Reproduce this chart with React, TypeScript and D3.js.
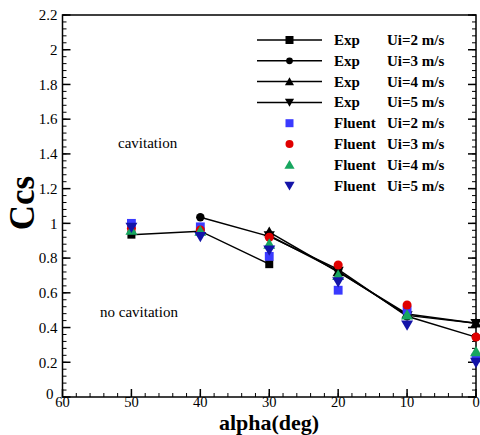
import React from "react";
import * as d3 from "d3";

const W = 480;
const H = 435;
const M = { left: 62.5, right: 476, top: 15, bottom: 397 };

const alphaVals = [50, 40, 30, 20, 10, 0];

// Experimental series (null = no point)
const expUi2 = [0.935, 0.955, 0.765, null, null, null];
const expUi3 = [null, 1.035, 0.925, 0.735, 0.465, 0.345];
const expUi4 = [null, null, 0.95, 0.72, 0.478, 0.425];
const expUi5 = [null, null, 0.93, 0.725, 0.47, 0.425];

// Fluent series
const fluUi2 = [1.0, 0.98, 0.81, 0.615, 0.5, 0.225];
const fluUi3 = [0.97, 0.962, 0.92, 0.76, 0.53, 0.345];
const fluUi4 = [0.96, 0.955, 0.88, 0.7, 0.472, 0.26];
const fluUi5 = [0.978, 0.925, 0.847, 0.664, 0.415, 0.2];

const xTicks = [60, 50, 40, 30, 20, 10, 0];
const yTicks = [0, 0.2, 0.4, 0.6, 0.8, 1, 1.2, 1.4, 1.6, 1.8, 2, 2.2];

const legendLabels = [
  ["Exp", "Ui=2 m/s"],
  ["Exp", "Ui=3 m/s"],
  ["Exp", "Ui=4 m/s"],
  ["Exp", "Ui=5 m/s"],
  ["Fluent", "Ui=2 m/s"],
  ["Fluent", "Ui=3 m/s"],
  ["Fluent", "Ui=4 m/s"],
  ["Fluent", "Ui=5 m/s"],
];

const x = d3.scaleLinear().domain([60, 0]).range([M.left, M.right]);
const y = d3.scaleLinear().domain([0, 2.2]).range([M.bottom, M.top]);

type Shape = "square" | "circle" | "tri" | "dtri";

function symPath(shape: Shape, size: number): string {
  const t =
    shape === "square"
      ? d3.symbolSquare
      : shape === "circle"
      ? d3.symbolCircle
      : d3.symbolTriangle;
  return d3.symbol().type(t).size(size)() || "";
}

function Marker({ cx, cy, shape, size, fill }: { cx: number; cy: number; shape: Shape; size: number; fill: string }) {
  const rot = shape === "dtri" ? " rotate(180)" : "";
  const dy = shape === "tri" ? 1 : shape === "dtri" ? -1 : 0;
  return <path d={symPath(shape, size)} transform={`translate(${cx},${cy + dy})${rot}`} fill={fill} />;
}

const expSeries: { vals: (number | null)[]; shape: Shape }[] = [
  { vals: expUi2, shape: "square" },
  { vals: expUi3, shape: "circle" },
  { vals: expUi4, shape: "tri" },
  { vals: expUi5, shape: "dtri" },
];
const fluSeries: { vals: number[]; shape: Shape; color: string }[] = [
  { vals: fluUi2, shape: "square", color: "#3a3aff" },
  { vals: fluUi3, shape: "circle", color: "#e00000" },
  { vals: fluUi4, shape: "tri", color: "#17a65f" },
  { vals: fluUi5, shape: "dtri", color: "#1414a8" },
];

const expSize: Record<Shape, number> = { square: 64, circle: 56, tri: 55, dtri: 55 };
const fluSize: Record<Shape, number> = { square: 78, circle: 64, tri: 62, dtri: 62 };
const legExpSize: Record<Shape, number> = { square: 64, circle: 36, tri: 36, dtri: 36 };
const legFluSize: Record<Shape, number> = { square: 64, circle: 50, tri: 45, dtri: 45 };

const FONT = '"Liberation Serif"';

function T(props: any) {
  const { style, ...rest } = props;
  return <text {...rest} style={{ fontFamily: FONT, ...(style || {}) }} />;
}

export default function App() {
  const line = d3
    .line<[number, number | null]>()
    .defined((d) => d[1] !== null)
    .x((d) => x(d[0]))
    .y((d) => y(d[1] as number));

  const xMinor = d3.range(60, -0.1, -2);
  const yMinor = d3.range(0, 2.201, 0.04);

  const legY0 = 40;
  const legDy = 20.8;

  return (
    <svg
      width={W}
      height={H}
      style={{ position: "absolute", left: 0, top: 0, background: "#fff" }}
    >
      <rect width={W} height={H} fill="#fff" />
      {/* minor ticks */}
      {yMinor.map((v, i) => (
        <g key={"ym" + i}>
          <line x1={M.left} x2={M.left + 4} y1={y(v)} y2={y(v)} stroke="#000" strokeWidth={1} />
          <line x1={M.right} x2={M.right - 4} y1={y(v)} y2={y(v)} stroke="#000" strokeWidth={1} />
        </g>
      ))}
      {xMinor.map((v, i) => (
        <line key={"xm" + i} x1={x(v)} x2={x(v)} y1={M.bottom} y2={M.bottom - 4} stroke="#000" strokeWidth={1} />
      ))}
      {/* major ticks */}
      {yTicks.map((v, i) => (
        <g key={"yt" + i}>
          <line x1={M.left} x2={M.left + 8} y1={y(v)} y2={y(v)} stroke="#000" strokeWidth={1.5} />
          <line x1={M.right} x2={M.right - 8} y1={y(v)} y2={y(v)} stroke="#000" strokeWidth={1.5} />
          <T x={v === 0 ? M.left - 9 : M.left - 5} y={v === 0 ? y(v) - 3 : y(v)} dy="0.35em" textAnchor="end" fontSize={15}>
            {d3.format("~g")(v)}
          </T>
        </g>
      ))}
      {xTicks.map((v, i) => (
        <g key={"xt" + i}>
          <line x1={x(v)} x2={x(v)} y1={M.bottom} y2={M.bottom - 8} stroke="#000" strokeWidth={1.5} />
          <T x={x(v)} y={M.bottom + 10} textAnchor="middle" fontSize={14.5}>
            {v}
          </T>
        </g>
      ))}
      {/* frame */}
      <rect
        x={M.left}
        y={M.top}
        width={M.right - M.left}
        height={M.bottom - M.top}
        fill="none"
        stroke="#000"
        strokeWidth={1.5}
      />
      {/* axis titles */}
      <T x={269} y={430} textAnchor="middle" fontSize={22} fontWeight="bold">
        alpha(deg)
      </T>
      <T transform={`translate(34,203) rotate(-90)`} textAnchor="middle" fontSize={35} fontWeight="bold">
        Ccs
      </T>
      {/* annotations */}
      <T x={118} y={148} fontSize={15}>
        cavitation
      </T>
      <T x={100} y={317} fontSize={15}>
        no cavitation
      </T>
      {/* exp lines */}
      {expSeries.map((s, i) => (
        <path
          key={"el" + i}
          d={line(alphaVals.map((a, j) => [a, s.vals[j]] as [number, number | null])) || ""}
          fill="none"
          stroke="#000"
          strokeWidth={1.5}
        />
      ))}
      {expSeries.map((s, i) =>
        s.vals.map((v, j) =>
          v === null ? null : (
            <Marker key={`em${i}-${j}`} cx={x(alphaVals[j])} cy={y(v)} shape={s.shape} size={expSize[s.shape]} fill="#000" />
          )
        )
      )}
      {/* fluent markers */}
      {fluSeries.map((s, i) =>
        s.vals.map((v, j) => (
          <Marker key={`fm${i}-${j}`} cx={x(alphaVals[j])} cy={y(v)} shape={s.shape} size={fluSize[s.shape]} fill={s.color} />
        ))
      )}
      {/* legend */}
      {legendLabels.map((l, i) => {
        const ly = legY0 + i * legDy;
        const isExp = i < 4;
        const s = isExp ? expSeries[i] : fluSeries[i - 4];
        return (
          <g key={"lg" + i}>
            {isExp && <line x1={257} x2={322} y1={ly} y2={ly} stroke="#000" strokeWidth={1.5} />}
            <Marker
              cx={289.5}
              cy={ly}
              shape={s.shape}
              size={isExp ? legExpSize[s.shape] : legFluSize[s.shape]}
              fill={isExp ? "#000" : (s as any).color}
            />
            <T x={334} y={ly} dy="0.33em" fontSize={15} fontWeight="bold">
              {l[0]}
            </T>
            <T x={387} y={ly} dy="0.33em" fontSize={15} fontWeight="bold">
              {l[1]}
            </T>
          </g>
        );
      })}
    </svg>
  );
}
